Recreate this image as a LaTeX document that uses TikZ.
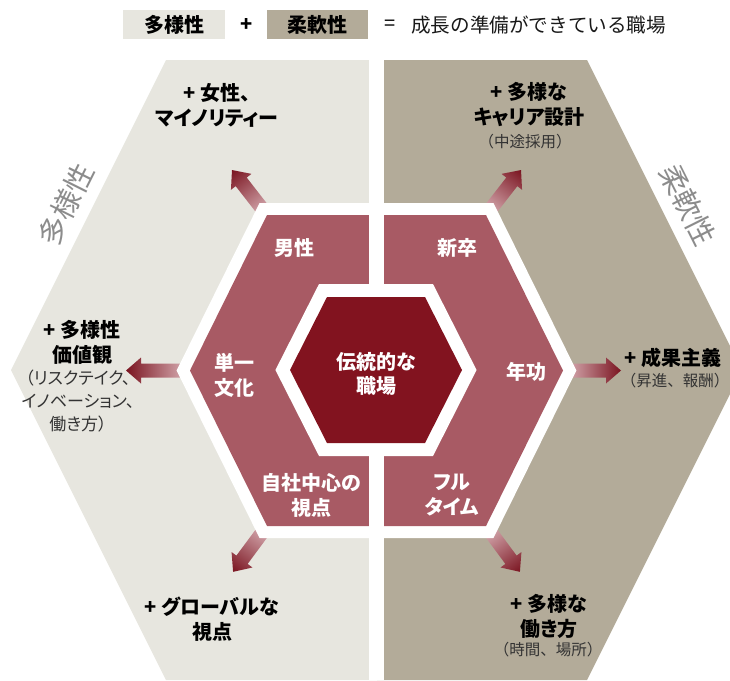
\documentclass[tikz,border=0pt]{standalone}
\usepackage{fontspec}
\newfontfamily\jp[RawFeature=+palt]{Noto Sans CJK JP}
\newfontfamily\jpm{Noto Sans CJK JP}
\definecolor{lgray}{HTML}{E7E6DF}
\definecolor{tanc}{HTML}{B3AB99}
\definecolor{rose}{HTML}{A85A64}
\definecolor{dred}{HTML}{82131F}
\definecolor{arlight}{HTML}{DDB7BC}
\definecolor{ardark}{HTML}{7A1420}
\definecolor{sidegray}{HTML}{8C8C8C}
\definecolor{subtext}{HTML}{333333}
\newcommand\myblockarrow[4]{%
  \begin{scope}[transform canvas={shift={(#1,#2)},rotate=#3}]
    \shade[left color=arlight,right color=ardark]
      (0,-7) -- (#4-15,-7) -- (#4-15,-13) -- (#4,0) -- (#4-15,13) -- (#4-15,7) -- (0,7) -- cycle;
  \end{scope}}
\tikzset{
  inlbl/.style={font=\jp\bfseries\fontsize{20}{25}\selectfont, text=white, align=center, inner sep=0pt},
  outlbl/.style={font=\jp\bfseries\fontsize{20}{25}\selectfont, text=black, align=center, inner sep=0pt},
  sublbl/.style={font=\jp\fontsize{17}{23}\selectfont, text=subtext, align=center, inner sep=0pt},
  subfw/.style={font=\jpm\fontsize{15.5}{20}\selectfont, text=subtext, align=center, inner sep=0pt},
  sidelbl/.style={font=\jp\fontsize{29}{30}\selectfont, text=sidegray, inner sep=0pt},
  legbox/.style={minimum width=102pt, minimum height=29pt, inner sep=0pt, font=\jpm\bfseries\fontsize{20}{24}\selectfont},
}
\begin{document}
\begin{tikzpicture}[x=1pt,y=-1pt]
\useasboundingbox (0,0) rectangle (730,680);
\clip (0,0) rectangle (730,680);
% outer halves
\fill[lgray] (166,60) -- (377,60) -- (377,680) -- (166,680) -- (11,370) -- cycle;
\fill[tanc] (377,60) -- (587,60) -- (742,370) -- (587,680) -- (377,680) -- cycle;
% arrows
\myblockarrow{267}{215}{127.9}{57}
\myblockarrow{486}{215}{52.1}{57}
\myblockarrow{267}{526}{233.5}{57}
\myblockarrow{486}{526}{-53.5}{57}
\myblockarrow{190}{370.5}{180}{64}
\myblockarrow{563}{370.5}{0}{58}
% middle hexagon
\draw[white, line width=24pt, line join=miter] (190,370.5) -- (267,215) -- (486,215) -- (563,370.5) -- (486,526) -- (267,526) -- cycle;
\fill[rose] (190,370.5) -- (267,215) -- (486,215) -- (563,370.5) -- (486,526) -- (267,526) -- cycle;
% white split
\fill[white] (369,55) rectangle (384,680);
% inner hexagon
\draw[white, line width=26pt, line join=miter] (290,370) -- (327,297) -- (425,297) -- (462,370) -- (425,443) -- (327,443) -- cycle;
\fill[dred] (290,370) -- (327,297) -- (425,297) -- (462,370) -- (425,443) -- (327,443) -- cycle;
% legend
\node[legbox, fill=lgray] (lb1) at (174,24.5) {多様性};
\node[font=\jpm\bfseries\fontsize{20}{24}\selectfont, inner sep=0pt] (plus) at (247,25) {+};
\node[legbox, fill=tanc, minimum width=101pt] (lb2) at (317.5,24.5) {柔軟性};
\node[font=\jpm\fontsize{20}{24}\selectfont, inner sep=0pt] (eq) at (390,25) {=};
\node[font=\jpm\fontsize{19.6}{24}\selectfont, anchor=west, inner sep=0pt, text=black!90] (goal) at (411,25) {成長の準備ができている職場};
% inner labels
\node[inlbl] (center) at (376,374) {伝統的な\\[-1pt]職場};
\node[inlbl] (m1) at (294,248) {男性};
\node[inlbl] (m2) at (457,248) {新卒};
\node[inlbl] (m3) at (234,375) {単一\\文化};
\node[inlbl] (m4) at (526,372) {年功};
\node[inlbl] (m5) at (311,495) {自社中心の\\視点};
\node[inlbl] (m6) at (452,495) {フル\\タイム};
% outer labels
\node[outlbl] (o1) at (217,105) {+ 女性、\\マイノリティー};
\node[outlbl] (o2) at (529,105) {+ 多様な\\キャリア設計};
\node[subfw] (o2s) at (525,142) {（中途採用）};
\node[outlbl] (o3) at (82,342) {+ 多様性\\価値観};
\node[sublbl] (o3s) at (78,401) {（リスクテイク、\\イノベーション、\\働き方）};
\node[outlbl] (o4) at (673,358) {+ 成果主義};
\node[subfw, anchor=east] (o4s) at (729.5,381) {（昇進、報酬）};
\node[outlbl] (o5) at (212,619) {+ グローバルな\\視点};
\node[outlbl] (o6) at (549,616) {+ 多様な\\働き方};
\node[subfw] (o6s) at (548,650) {（時間、場所）};
% side labels
\node[sidelbl, rotate=63.4] (s1) at (66,205) {多様性};
\node[sidelbl, rotate=-63.4] (s2) at (688,205) {柔軟性};
\end{tikzpicture}
\end{document}
